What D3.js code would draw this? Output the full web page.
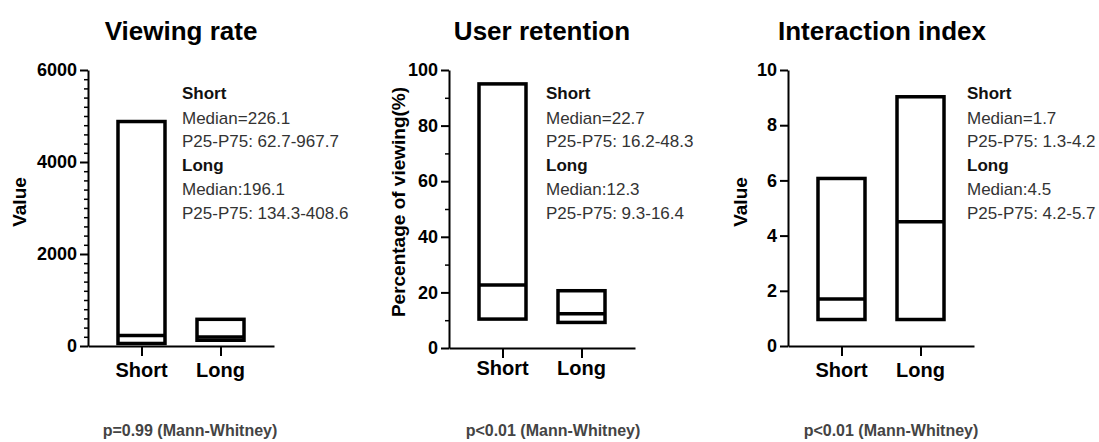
<!DOCTYPE html>
<html>
<head>
<meta charset="utf-8">
<script src="https://cdn.jsdelivr.net/npm/d3@7"></script>
<style>
  html, body { margin: 0; padding: 0; background: #fff; }
  svg { display: block; }
  text { font-family: "Liberation Sans", Arial, sans-serif; }
</style>
</head>
<body>
<svg id="chart" width="1099" height="442"></svg>
<script>
// ---------------- data ----------------
const categories = ["Short", "Long"];
const panelTitles = ["Viewing rate", "User retention", "Interaction index"];
const yLabels = ["Value", "Percentage of viewing(%)", "Value"];

const viewingTicks = [0, 2000, 4000, 6000];
const retentionTicks = [0, 20, 40, 60, 80, 100];
const interactionTicks = [0, 2, 4, 6, 8, 10];

// floating boxes: min, median, max for [Short, Long]
const viewingMin = [55, 125];
const viewingMedian = [226.1, 196.1];
const viewingMax = [4880, 580];

const retentionMin = [10.4, 9.2];
const retentionMedian = [22.7, 12.3];
const retentionMax = [95, 20.6];

const interactionMin = [0.96, 0.96];
const interactionMedian = [1.7, 4.5];
const interactionMax = [6.07, 9.03];

const viewingNotes = ["Short", "Median=226.1", "P25-P75: 62.7-967.7", "Long", "Median:196.1", "P25-P75: 134.3-408.6"];
const retentionNotes = ["Short", "Median=22.7", "P25-P75: 16.2-48.3", "Long", "Median:12.3", "P25-P75: 9.3-16.4"];
const interactionNotes = ["Short", "Median=1.7", "P25-P75: 1.3-4.2", "Long", "Median:4.5", "P25-P75: 4.2-5.7"];
const noteBold = [true, false, false, true, false, false];

const pValues = ["p=0.99 (Mann-Whitney)", "p<0.01 (Mann-Whitney)", "p<0.01 (Mann-Whitney)"];

// ---------------- layout ----------------
const panels = [
  { ticks: viewingTicks, minor: 200, mins: viewingMin, meds: viewingMedian, maxs: viewingMax, notes: viewingNotes,
    ax: 88, y0: 346, y1: 70, titleX: 181, noteX: 182, yLabX: 26, xLabY: 377, pX: 190 },
  { ticks: retentionTicks, minor: 10, mins: retentionMin, meds: retentionMedian, maxs: retentionMax, notes: retentionNotes,
    ax: 449, y0: 348, y1: 70, titleX: 542, noteX: 546, yLabX: 405, xLabY: 375, pX: 553 },
  { ticks: interactionTicks, minor: null, mins: interactionMin, meds: interactionMedian, maxs: interactionMax, notes: interactionNotes,
    ax: 788, y0: 346, y1: 70, titleX: 882, noteX: 967, yLabX: 747, xLabY: 377, pX: 891 }
];
const axisWidth = 186;
const boxW = 47;
const yLabCenter = 202;

const svg = d3.select("#chart");

panels.forEach((p, i) => {
  const g = svg.append("g");
  const yMax = p.ticks[p.ticks.length - 1];
  const y = d3.scaleLinear().domain([0, yMax]).range([p.y0, p.y1]);
  const x = d3.scalePoint().domain(categories).range([p.ax, p.ax + axisWidth]).padding(0.677);

  // title
  g.append("text").attr("x", p.titleX).attr("y", 40).attr("text-anchor", "middle")
    .attr("font-size", 26).attr("font-weight", "bold").attr("fill", "#000").text(panelTitles[i]);

  // minor ticks
  if (p.minor) {
    const minorVals = d3.range(0, yMax + 1e-9, p.minor).filter(v => !p.ticks.includes(v));
    const minorAxis = d3.axisLeft(y).tickValues(minorVals).tickSize(4).tickFormat("").tickSizeOuter(0);
    const mg = g.append("g").attr("transform", `translate(${p.ax},0)`).call(minorAxis);
    mg.select(".domain").remove();
    mg.selectAll(".tick line").attr("stroke", "#000").attr("stroke-width", 1.5);
  }

  // y axis
  const yAxis = d3.axisLeft(y).tickValues(p.ticks).tickSize(8).tickPadding(3).tickSizeOuter(0).tickFormat(d3.format("d"));
  const yg = g.append("g").attr("transform", `translate(${p.ax},0)`).call(yAxis);
  yg.select(".domain").attr("stroke", "#000").attr("stroke-width", 2);
  yg.selectAll(".tick line").attr("stroke", "#000").attr("stroke-width", 2);
  yg.selectAll(".tick text").attr("font-size", 18).attr("font-weight", "bold").attr("fill", "#000")
    .attr("font-family", "'Liberation Sans', Arial, sans-serif");

  // x axis
  const xAxis = d3.axisBottom(x).tickSize(10).tickPadding(0).tickSizeOuter(0).tickFormat("");
  const xg = g.append("g").attr("transform", `translate(0,${p.y0})`).call(xAxis);
  xg.select(".domain").attr("stroke", "#000").attr("stroke-width", 2);
  xg.selectAll(".tick line").attr("stroke", "#000").attr("stroke-width", 2);

  // x category labels
  g.selectAll(".xlab").data(categories).enter().append("text")
    .attr("x", d => x(d)).attr("y", p.xLabY).attr("text-anchor", "middle")
    .attr("font-size", 20).attr("font-weight", "bold").attr("fill", "#000").text(d => d);

  // y label
  g.append("text").attr("transform", `translate(${p.yLabX},${yLabCenter}) rotate(-90)`)
    .attr("text-anchor", "middle").attr("font-size", 19).attr("font-weight", "bold").attr("fill", "#000")
    .text(yLabels[i]);

  // boxes
  categories.forEach((c, k) => {
    g.append("rect").attr("x", x(c) - boxW / 2).attr("y", y(p.maxs[k]))
      .attr("width", boxW).attr("height", y(p.mins[k]) - y(p.maxs[k]))
      .attr("fill", "none").attr("stroke", "#000").attr("stroke-width", 3.5);
    g.append("line").attr("x1", x(c) - boxW / 2).attr("x2", x(c) + boxW / 2)
      .attr("y1", y(p.meds[k])).attr("y2", y(p.meds[k]))
      .attr("stroke", "#000").attr("stroke-width", 3.5);
  });

  // notes
  const noteY = [99, 124, 147, 171, 195, 219];
  p.notes.forEach((t, k) => {
    g.append("text").attr("x", p.noteX).attr("y", noteY[k])
      .attr("font-size", 17).attr("font-weight", noteBold[k] ? "bold" : "normal")
      .attr("fill", noteBold[k] ? "#111" : "#333").text(t);
  });

  // p value
  g.append("text").attr("x", p.pX).attr("y", 436).attr("text-anchor", "middle")
    .attr("font-family", "'DejaVu Sans', sans-serif")
    .attr("font-size", 16).attr("font-weight", "bold").attr("fill", "#444").text(pValues[i]);
});
</script>
</body>
</html>
